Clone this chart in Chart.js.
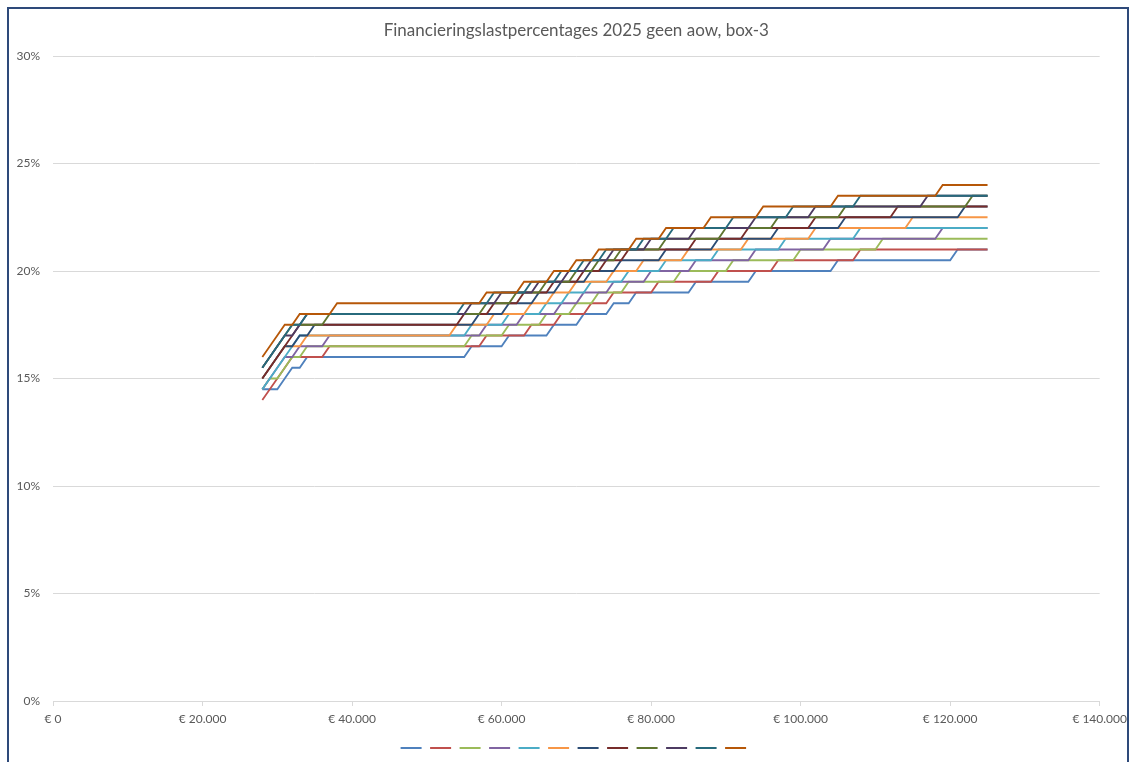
<!DOCTYPE html>
<html>
<head>
<meta charset="utf-8">
<title>Financieringslastpercentages 2025</title>
<script src="https://cdn.jsdelivr.net/npm/chart.js@4.4.1/dist/chart.umd.min.js"></script>
<style>
  html, body { margin: 0; padding: 0; background: #fff; overflow: hidden; }
  #wrap { position: relative; width: 1133px; height: 762px; }
  #frame { position: absolute; left: 7px; top: 7px; width: 1118px; height: 800px;
           border-left: 2px solid #2e4a7a; border-top: 2px solid #2e4a7a; border-right: 2px solid #2e4a7a;
           pointer-events: none; }
</style>
</head>
<body>
<div id="wrap">
  <canvas id="chart" width="1133" height="762"></canvas>
  <div id="frame"></div>
</div>
<script>
// each series: [income in thousands where the level starts, percentage]
const stepsBlue = [[28,14.5],[31,15],[32,15.5],[34,16],[56,16.5],[61,17],[67,17.5],[71,18],[75,18.5],[78,19],[86,19.5],[94,20],[105,20.5],[121,21]];
const stepsRed = [[28,14],[29,14.5],[30,15],[31,15.5],[32,16],[37,16.5],[58,17],[64,17.5],[68,18],[72,18.5],[75,19],[81,19.5],[89,20],[97,20.5],[108,21]];
const stepsGreen = [[28,14.5],[29,15],[31,15.5],[32,16],[34,16.5],[56,17],[61,17.5],[66,18],[70,18.5],[73,19],[77,19.5],[84,20],[91,20.5],[100,21],[111,21.5]];
const stepsPurple = [[28,14.5],[29,15],[30,15.5],[31,16],[33,16.5],[37,17],[58,17.5],[63,18],[68,18.5],[71,19],[75,19.5],[80,20],[86,20.5],[94,21],[104,21.5],[119,22]];
const stepsAqua = [[28,14.5],[29,15],[30,15.5],[31,16],[32,16.5],[33,17],[56,17.5],[61,18],[66,18.5],[69,19],[72,19.5],[77,20],[82,20.5],[89,21],[98,21.5],[108,22]];
const stepsOrange = [[28,15],[29,15.5],[30,16],[31,16.5],[34,17],[54,17.5],[59,18],[64,18.5],[67,19],[70,19.5],[75,20],[79,20.5],[85,21],[93,21.5],[102,22],[115,22.5]];
const stepsDarkBlue = [[28,15],[29,15.5],[30,16],[31,16.5],[33,17],[35,17.5],[57,18],[61,18.5],[65,19],[68,19.5],[72,20],[76,20.5],[82,21],[89,21.5],[97,22],[106,22.5],[122,23]];
const stepsDarkRed = [[28,15],[29,15.5],[30,16],[31,16.5],[32,17],[33,17.5],[55,18],[59,18.5],[63,19],[67,19.5],[71,20],[74,20.5],[77,21],[86,21.5],[93,22],[102,22.5],[113,23]];
const stepsDarkGreen = [[28,15.5],[29,16],[30,16.5],[31,17],[32,17.5],[37,18],[58,18.5],[62,19],[66,19.5],[70,20],[73,20.5],[76,21],[82,21.5],[90,22],[97,22.5],[106,23],[123,23.5]];
const stepsDarkPurple = [[28,15.5],[29,16],[30,16.5],[31,17],[33,17.5],[34,18],[56,18.5],[60,19],[65,19.5],[69,20],[72,20.5],[75,21],[80,21.5],[86,22],[94,22.5],[102,23],[117,23.5]];
const stepsTeal = [[28,15.5],[29,16],[30,16.5],[31,17],[32,17.5],[34,18],[55,18.5],[59,19],[64,19.5],[68,20],[71,20.5],[74,21],[79,21.5],[83,22],[91,22.5],[99,23],[108,23.5]];
const stepsDarkOrange = [[28,16],[29,16.5],[30,17],[31,17.5],[33,18],[38,18.5],[58,19],[63,19.5],[67,20],[70,20.5],[73,21],[78,21.5],[82,22],[88,22.5],[95,23],[105,23.5],[119,24]];

const lastIncomeK = 125;
const xTicks = [0, 20000, 40000, 60000, 80000, 100000, 120000, 140000];
const yTicks = [0, 5, 10, 15, 20, 25, 30];

const allSteps = [stepsBlue, stepsRed, stepsGreen, stepsPurple, stepsAqua, stepsOrange,
  stepsDarkBlue, stepsDarkRed, stepsDarkGreen, stepsDarkPurple, stepsTeal, stepsDarkOrange];
const colors = ['#4f81bd', '#c0504d', '#9bbb59', '#8064a2', '#4bacc6', '#f79646',
  '#2c4d75', '#772c2a', '#5f7530', '#4d3b62', '#276a7c', '#b65708'];

// every step is a flat run of yearly points, so the corner points are enough
function toPoints(steps) {
  const pts = [];
  steps.forEach(([k, pct], i) => {
    const next = i + 1 < steps.length ? steps[i + 1][0] : lastIncomeK + 1;
    pts.push({ x: k * 1000, y: pct });
    if (next - 1 > k) pts.push({ x: (next - 1) * 1000, y: pct });
  });
  return pts;
}

function euro(v) {
  return '€ ' + String(v).replace(/\B(?=(\d{3})+(?!\d))/g, '.');
}

const font = { family: 'Lato, "Open Sans", sans-serif', size: 12 };

new Chart(document.getElementById('chart'), {
  type: 'line',
  data: {
    datasets: allSteps.map((s, i) => ({
      label: '',
      data: toPoints(s),
      borderColor: colors[i],
      backgroundColor: colors[i],
      borderWidth: 1.8,
      pointRadius: 0,
      tension: 0,
      order: allSteps.length - i
    }))
  },
  options: {
    responsive: false,
    animation: false,
    layout: { padding: { left: 0, right: 28, top: 0, bottom: -2 }, autoPadding: false },
    plugins: {
      tooltip: { enabled: false },
      // not fullSize: title and legend are centred over the plot area, as in the original
      title: {
        display: true,
        fullSize: false,
        text: 'Financieringslastpercentages 2025 geen aow, box-3',
        color: '#595959',
        font: { family: font.family, size: 17, weight: 'normal' },
        padding: { top: 20, bottom: 15.6 }
      },
      legend: {
        position: 'bottom',
        fullSize: false,
        labels: {
          usePointStyle: true,
          pointStyle: 'line',
          pointStyleWidth: 21,
          padding: 2.5,
          font: font,
          sort: (a, b) => a.datasetIndex - b.datasetIndex
        }
      }
    },
    scales: {
      x: {
        type: 'linear',
        min: 0,
        max: 140000,
        afterBuildTicks: (axis) => { axis.ticks = xTicks.map(v => ({ value: v })); },
        afterFit: (axis) => { axis.height = 38.5; },
        grid: { drawOnChartArea: false, tickLength: 5, color: '#d9d9d9' },
        border: { color: '#d9d9d9' },
        ticks: { color: '#595959', font: font, padding: 6, maxRotation: 0, callback: v => euro(v) }
      },
      y: {
        min: 0,
        max: 30,
        afterBuildTicks: (axis) => { axis.ticks = yTicks.map(v => ({ value: v })); },
        afterFit: (axis) => { axis.width = 53; },
        grid: { color: '#d9d9d9', drawTicks: false },
        border: { display: false },
        ticks: { color: '#595959', font: font, padding: 13, callback: v => v + '%' }
      }
    }
  }
});
</script>
</body>
</html>
